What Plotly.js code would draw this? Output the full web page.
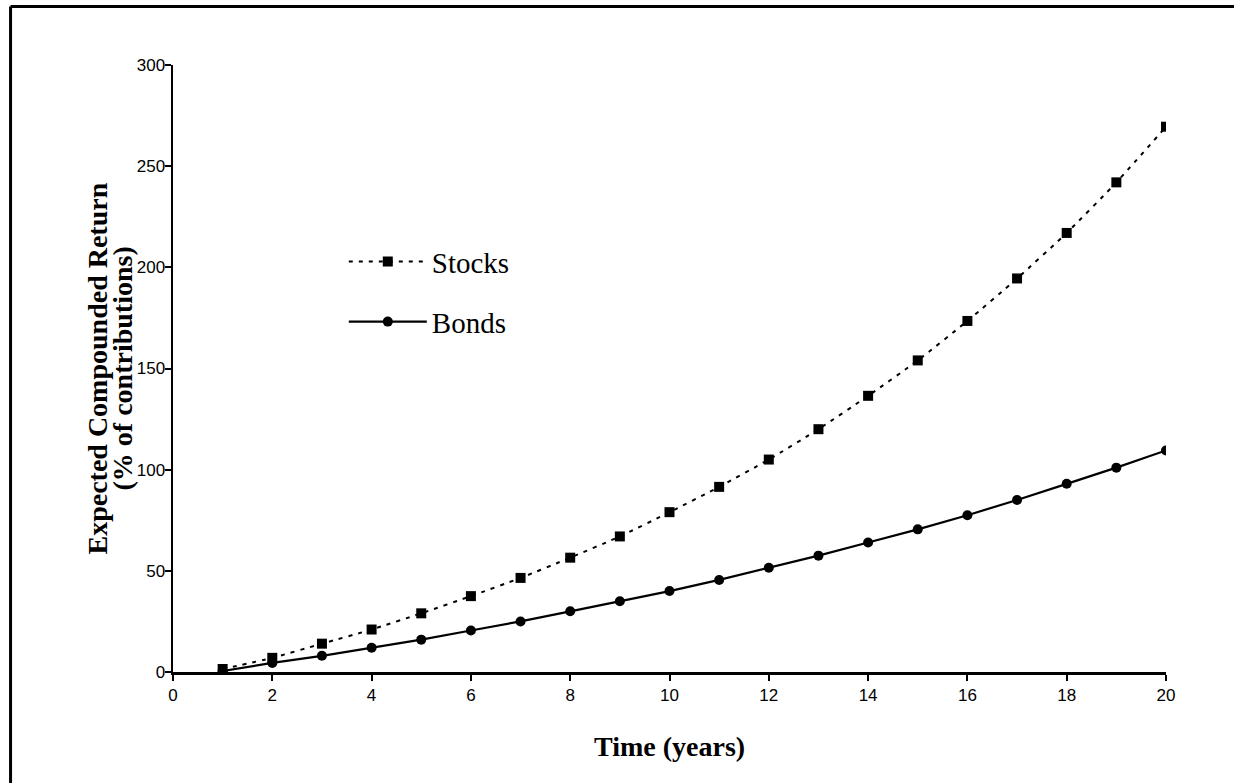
<!DOCTYPE html>
<html>
<head>
<meta charset="utf-8">
<script src="https://cdn.plot.ly/plotly-3.0.1.min.js"></script>
<style>
  html, body { margin: 0; padding: 0; background: #fff; overflow: hidden; }
  #chart { width: 1234px; height: 783px; }
</style>
</head>
<body>
<div id="chart"></div>
<script>
const years = [1,2,3,4,5,6,7,8,9,10,11,12,13,14,15,16,17,18,19,20];
const stocks = [1.5,7,14,21,29,37.5,46.5,56.5,67,79,91.5,105,120,136.5,154,173.5,194.5,217,242,269.5];
const bonds = [0.5,4.5,8,12,16,20.5,25,30,35,40,45.5,51.5,57.5,64,70.5,77.5,85,93,101,109.5];
const xTicks = [0,2,4,6,8,10,12,14,16,18,20];
const yTicks = [0,50,100,150,200,250,300];
const xTitle = 'Time (years)';
const yTitleLines = ['Expected Compounded Return', '(% of contributions)'];

const traces = [
  {
    x: years, y: stocks, name: 'Stocks', type: 'scatter', mode: 'lines+markers',
    line: {color: '#000', width: 2, dash: '4px,6px', shape: 'spline', smoothing: 0.6},
    marker: {symbol: 'square', size: 10, color: '#000'},
    legend: 'legend'
  },
  {
    x: years, y: bonds, name: 'Bonds', type: 'scatter', mode: 'lines+markers',
    line: {color: '#000', width: 2.2},
    marker: {symbol: 'circle', size: 10, color: '#000'},
    legend: 'legend2'
  }
];

const serif = 'Liberation Serif, Times New Roman, serif';
const legFont = {family: serif, size: 29, color: '#000'};
const tickFont = {family: 'Liberation Sans, Arial, sans-serif', size: 17, color: '#000'};
const titleFont = {family: serif, size: 28, color: '#000'};
const frameLine = {color: '#000', width: 3};
const layout = {
  width: 1234, height: 783,
  margin: {l: 173, r: 68, t: 65, b: 111},
  paper_bgcolor: '#fff', plot_bgcolor: 'rgba(0,0,0,0)',
  showlegend: true,
  legend: {x: 0.172, y: 0.676, xanchor: 'left', yanchor: 'middle', bgcolor: 'rgba(0,0,0,0)',
           font: legFont, itemwidth: 78},
  legend2: {x: 0.172, y: 0.577, xanchor: 'left', yanchor: 'middle', bgcolor: 'rgba(0,0,0,0)',
           font: legFont, itemwidth: 78},
  xaxis: {
    range: [0, 20], tickvals: xTicks, ticktext: xTicks.map(String),
    showgrid: false, zeroline: false, showline: true, linecolor: '#000', linewidth: 2.5,
    ticks: 'outside', ticklen: 6, tickwidth: 2, tickcolor: '#000',
    tickfont: tickFont
  },
  yaxis: {
    range: [0, 300], tickvals: yTicks, ticktext: yTicks.map(String),
    showgrid: false, zeroline: false, showline: true, linecolor: '#000', linewidth: 2.5,
    ticks: 'outside', ticklen: 6, tickwidth: 2, tickcolor: '#000',
    ticklabelstandoff: -4,
    tickfont: tickFont
  },
  shapes: [
    {type: 'line', xref: 'paper', yref: 'paper', layer: 'above',
     x0: -0.1636, x1: 1.08, y0: 1.0965, y1: 1.0965, line: frameLine},
    {type: 'line', xref: 'paper', yref: 'paper', layer: 'above',
     x0: -0.1636, x1: -0.1636, y0: 1.0965, y1: -0.2, line: frameLine}
  ],
  annotations: [
    {xref: 'paper', yref: 'paper', x: 0.5, y: -0.122, xanchor: 'center', yanchor: 'middle',
     showarrow: false, text: '<b>' + xTitle + '</b>', font: titleFont},
    {xref: 'paper', yref: 'paper', x: -0.0765, y: 0.5, xanchor: 'center', yanchor: 'middle',
     showarrow: false, textangle: -90, text: '<b>' + yTitleLines[0] + '</b>', font: titleFont},
    {xref: 'paper', yref: 'paper', x: -0.0504, y: 0.5, xanchor: 'center', yanchor: 'middle',
     showarrow: false, textangle: -90, text: '<b>' + yTitleLines[1] + '</b>', font: titleFont}
  ]
};

Plotly.newPlot('chart', traces, layout, {displayModeBar: false, staticPlot: true});
</script>
</body>
</html>
